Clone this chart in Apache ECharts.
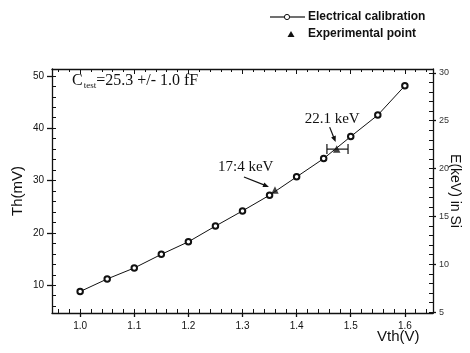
<!DOCTYPE html>
<html>
<head>
<meta charset="utf-8">
<script src="https://cdn.jsdelivr.net/npm/echarts@6/dist/echarts.min.js"></script>
<style>
  html, body { margin: 0; padding: 0; background: #fff; }
  #chart { width: 470px; height: 353px; }
</style>
</head>
<body>
<div id="chart"></div>
<script>
// Threshold scan: DAC voltage vs measured threshold
const vthValues = [1.00, 1.05, 1.10, 1.15, 1.20, 1.25, 1.30, 1.35, 1.40, 1.45, 1.50, 1.55, 1.60];
const thCalibration = [8.8, 11.2, 13.3, 15.9, 18.3, 21.3, 24.2, 27.2, 30.7, 34.2, 38.4, 42.5, 48.1];

// Source lines (Vth, Th)
const expVth = [1.36, 1.474];
const expTh = [28.2, 36.0];
const expLabels = ['17:4 keV', '22.1 keV'];
// horizontal uncertainty on the 22.1 keV point
const errLow = [null, 1.456];
const errHigh = [null, 1.495];

const xTickLabels = [1.0, 1.1, 1.2, 1.3, 1.4, 1.5, 1.6];
const thTickLabels = [10, 20, 30, 40, 50];
const eTickLabels = [5, 10, 15, 20, 25, 30];

const X_MIN = 0.948, X_MAX = 1.652;
const TH_MIN = 4.7, TH_MAX = 51.3;
const E_MIN = 4.9, E_MAX = 30.4;

function minorTicks(lo, hi, step, majors) {
  const out = [];
  for (let v = Math.ceil(lo / step) * step; v <= hi + 1e-9; v += step) {
    const r = Math.round(v * 1000) / 1000;
    if (!majors.some(m => Math.abs(m - r) < 1e-6)) out.push(r);
  }
  return out;
}
const xMinor = minorTicks(X_MIN, X_MAX, 0.02, xTickLabels);
const thMinor = minorTicks(TH_MIN, TH_MAX, 2, thTickLabels);
const eMinor = minorTicks(E_MIN, E_MAX, 1, eTickLabels);

const INK = '#111';
const sans = 'Liberation Sans, Arial, sans-serif';
const serif = 'Liberation Serif, Times New Roman, serif';

function tickAxis(base, extra) {
  return Object.assign({
    type: 'value',
    axisLine: { show: true, lineStyle: { color: INK, width: 1.3 } },
    splitLine: { show: false },
    axisLabel: { show: false },
    axisTick: { show: true, inside: true, length: 3, lineStyle: { color: INK, width: 1 } }
  }, base, extra);
}

const chart = echarts.init(document.getElementById('chart'), null, { renderer: 'canvas' });

// hand-drawn legend block (line-with-circle and triangle keys)
const legendGraphics = [
  { type: 'line', shape: { x1: 270, y1: 17, x2: 284, y2: 17 }, style: { stroke: INK, lineWidth: 1.2 } },
  { type: 'line', shape: { x1: 290, y1: 17, x2: 305, y2: 17 }, style: { stroke: INK, lineWidth: 1.2 } },
  { type: 'circle', shape: { cx: 287, cy: 17, r: 2.6 }, style: { stroke: INK, fill: '#fff', lineWidth: 1 } },
  { type: 'text', x: 308, y: 17, style: { text: 'Electrical calibration', fontFamily: sans, fontSize: 12, fontWeight: 'bold', fill: INK, verticalAlign: 'middle' } },
  { type: 'polygon', shape: { points: [[291, 31], [287.5, 37], [294.5, 37]] }, style: { fill: INK } },
  { type: 'text', x: 308, y: 34, style: { text: 'Experimental point', fontFamily: sans, fontSize: 12, fontWeight: 'bold', fill: INK, verticalAlign: 'middle' } }
];

const option = {
  backgroundColor: '#fff',
  animation: false,
  textStyle: { fontFamily: sans, color: INK },
  grid: { left: 52, right: 37, top: 69, bottom: 40, outerBoundsMode: 'none', containLabel: false },
  xAxis: [
    tickAxis({ min: X_MIN, max: X_MAX, position: 'bottom' }, {
      axisLabel: {
        show: true, customValues: xTickLabels, fontSize: 10, color: INK, margin: 8,
        formatter: v => v.toFixed(1)
      },
      axisTick: { show: true, inside: false, length: 4, customValues: xTickLabels, lineStyle: { color: INK, width: 1.3 } }
    }),
    tickAxis({ min: X_MIN, max: X_MAX, position: 'bottom' }, {
      axisLine: { show: false },
      axisTick: { show: true, inside: true, length: 4, customValues: xTickLabels.concat(xMinor), lineStyle: { color: INK } }
    }),
    tickAxis({ min: X_MIN, max: X_MAX, position: 'top' }, {
      axisTick: { show: true, inside: true, length: 5, customValues: xTickLabels, lineStyle: { color: INK } }
    }),
    tickAxis({ min: X_MIN, max: X_MAX, position: 'top' }, {
      axisLine: { show: false },
      axisTick: { show: true, inside: true, length: 3, customValues: xMinor, lineStyle: { color: INK } }
    })
  ],
  yAxis: [
    tickAxis({ min: TH_MIN, max: TH_MAX, position: 'left' }, {
      name: 'Th(mV)',
      nameLocation: 'middle',
      nameRotate: 90,
      nameGap: 27,
      nameMoveOverlap: false,
      nameTextStyle: { fontFamily: sans, fontSize: 15, color: INK },
      axisLabel: { show: true, customValues: thTickLabels, fontSize: 10, color: INK, margin: 8 },
      axisTick: { show: true, inside: false, length: 5, customValues: thTickLabels, lineStyle: { color: INK, width: 1.3 } }
    }),
    tickAxis({ min: TH_MIN, max: TH_MAX, position: 'left' }, {
      axisLine: { show: false },
      axisTick: { show: true, inside: true, length: 4, customValues: thMinor.concat(thTickLabels), lineStyle: { color: INK } }
    }),
    tickAxis({ min: E_MIN, max: E_MAX, position: 'right' }, {
      name: 'E(keV) in Si',
      nameLocation: 'middle',
      nameRotate: -90,
      nameGap: 15,
      nameMoveOverlap: false,
      nameTextStyle: { fontFamily: sans, fontSize: 14, color: INK },
      axisLabel: { show: true, customValues: eTickLabels, fontSize: 9, color: '#333', margin: 6 },
      axisTick: { show: true, inside: false, length: 3, customValues: eTickLabels, lineStyle: { color: INK, width: 1.3 } }
    }),
    tickAxis({ min: E_MIN, max: E_MAX, position: 'right' }, {
      axisLine: { show: false },
      axisTick: { show: true, inside: true, length: 4, customValues: eMinor.concat(eTickLabels), lineStyle: { color: INK } }
    })
  ],
  series: [
    {
      name: 'Electrical calibration',
      type: 'line',
      xAxisIndex: 0,
      yAxisIndex: 0,
      data: vthValues.map((v, i) => [v, thCalibration[i]]),
      symbol: 'emptyCircle',
      symbolSize: 5.5,
      lineStyle: { color: INK, width: 1 },
      itemStyle: { color: INK, borderColor: INK, borderWidth: 1 },
      z: 3
    },
    {
      name: 'Experimental point',
      type: 'scatter',
      xAxisIndex: 0,
      yAxisIndex: 0,
      data: expVth.map((v, i) => [v, expTh[i]]),
      symbol: 'triangle',
      symbolSize: 7.5,
      itemStyle: { color: INK },
      z: 4
    },
    {
      name: 'error',
      type: 'custom',
      xAxisIndex: 0,
      yAxisIndex: 0,
      data: expVth.map((v, i) => [v, expTh[i], errLow[i], errHigh[i]]).filter(d => d[2] != null),
      renderItem: function (params, api) {
        const y = api.value(1);
        const a = api.coord([api.value(2), y]);
        const b = api.coord([api.value(3), y]);
        const cap = 5;
        const st = { stroke: INK, lineWidth: 1.2 };
        return {
          type: 'group',
          children: [
            { type: 'line', shape: { x1: a[0], y1: a[1], x2: b[0], y2: b[1] }, style: st },
            { type: 'line', shape: { x1: a[0], y1: a[1] - cap, x2: a[0], y2: a[1] + cap }, style: st },
            { type: 'line', shape: { x1: b[0], y1: b[1] - cap, x2: b[0], y2: b[1] + cap }, style: st }
          ]
        };
      },
      z: 4
    }
  ],
  graphic: legendGraphics.concat([
    {
      type: 'text',
      left: 72,
      top: 73,
      style: {
        text: '{c|C}{s|test}{c|=25.3 +/- 1.0 fF}',
        rich: {
          c: { fontFamily: serif, fontSize: 16, fill: INK },
          s: { fontFamily: serif, fontSize: 9, fill: INK, padding: [9, 0, 0, 1] }
        }
      }
    },
    {
      type: 'text',
      left: 377,
      top: 329,
      style: { text: 'Vth(V)', fontFamily: sans, fontSize: 15, fill: INK }
    }
  ])
};

chart.setOption(option);

// Energy annotations with arrows pointing to the measured points
const notes = [];
const textOffsets = [[-57, -30], [-32, -38]];
const arrowFrom = [[-31, -13], [-7, -22]];
const arrowTo = [[-6, -3], [-1, -7]];
expVth.forEach((v, i) => {
  const p = chart.convertToPixel({ xAxisIndex: 0, yAxisIndex: 0 }, [v, expTh[i]]);
  notes.push({
    type: 'text',
    x: p[0] + textOffsets[i][0],
    y: p[1] + textOffsets[i][1],
    style: { text: expLabels[i], fontFamily: serif, fontSize: 15, fill: INK }
  });
  const x1 = p[0] + arrowFrom[i][0], y1 = p[1] + arrowFrom[i][1];
  const x2 = p[0] + arrowTo[i][0], y2 = p[1] + arrowTo[i][1];
  const ang = Math.atan2(y2 - y1, x2 - x1);
  const hl = 6, hw = 2.5;
  notes.push({
    type: 'line',
    shape: { x1: x1, y1: y1, x2: x2 - Math.cos(ang) * hl * 0.8, y2: y2 - Math.sin(ang) * hl * 0.8 },
    style: { stroke: INK, lineWidth: 1.2 }
  });
  notes.push({
    type: 'polygon',
    shape: {
      points: [
        [x2, y2],
        [x2 - Math.cos(ang) * hl - Math.sin(ang) * hw, y2 - Math.sin(ang) * hl + Math.cos(ang) * hw],
        [x2 - Math.cos(ang) * hl + Math.sin(ang) * hw, y2 - Math.sin(ang) * hl - Math.cos(ang) * hw]
      ]
    },
    style: { fill: INK }
  });
});
chart.setOption({ graphic: option.graphic.concat(notes) });
</script>
</body>
</html>
